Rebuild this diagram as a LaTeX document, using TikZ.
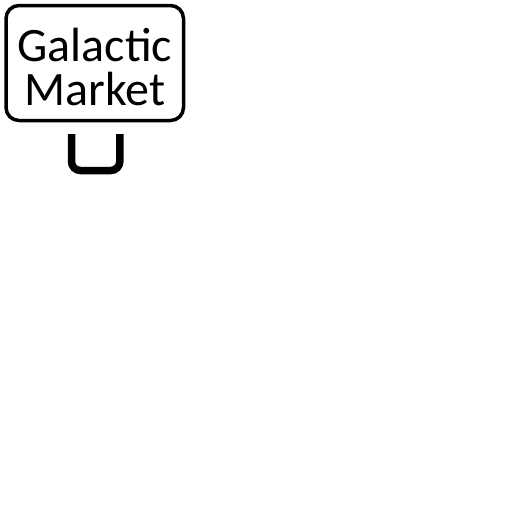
\documentclass[tikz,border=0pt]{standalone}
\usepackage{fontspec}
\setmainfont{Carlito}
\begin{document}
\begin{tikzpicture}[x=1pt,y=1pt,
  box/.style={draw, line width=3.5pt, rounded corners=13pt, minimum width=177.5pt, minimum height=115pt, inner sep=0pt},
  boxtext/.style={inner sep=0pt, align=center, font=\fontsize{48}{44}\selectfont},
  ucurve/.style={line width=7.5pt, rounded corners=9pt}]
\useasboundingbox (0,0) rectangle (512,-512);
\node[box] (market) at (94.75,-63) {};
\node[boxtext] (markettext) at ([yshift=-4pt]market.center) {Galactic\\Market};
\coordinate (ul) at (71.5,-134);
\coordinate (ur) at (119.8,-134);
\draw[ucurve] (ul) -- (71.5,-170.5) -- (119.8,-170.5) -- (ur);
\end{tikzpicture}
\end{document}
